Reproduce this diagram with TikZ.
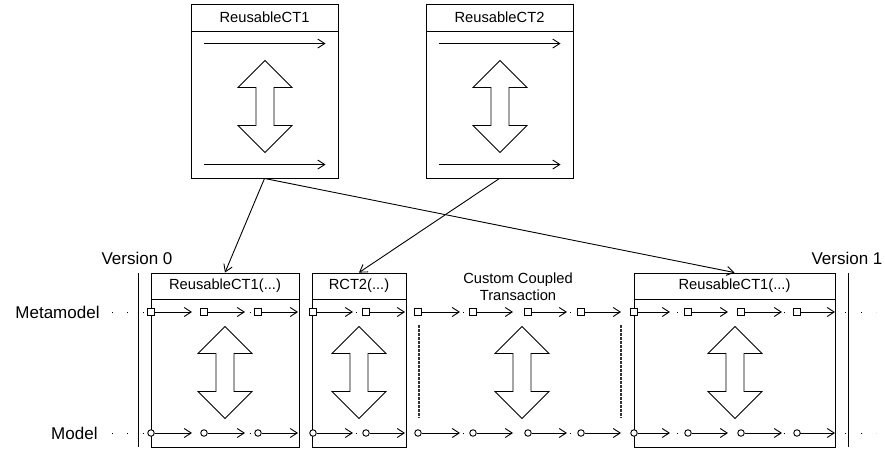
\documentclass[tikz,border=0pt]{standalone}
\usepackage{fontspec}
\setmainfont{Liberation Sans}
\usetikzlibrary{arrows.meta, calc}
\tikzset{ctbox/.style = {draw, minimum height=174pt, inner sep=0pt},
  cthead/.style = {draw, minimum height=27pt, inner sep=0pt, anchor=north, font=\fontsize{14.7}{17}\selectfont},
  lbl/.style = {font=\fontsize{17}{20}\selectfont, inner sep=0pt},
  barb/.style = {-{Straight Barb[length=7pt,width=9pt]}},
  mmsq/.style = {draw, fill=white, minimum size=6.5pt, inner sep=0pt},
  mcirc/.style = {draw, fill=white, circle, minimum size=6.5pt, inner sep=0pt},
  rowdots/.style = {dash pattern=on 1pt off 14.28pt, line width=1pt},
  sepline/.style = {gray!40!black, line width=1.2pt, dash pattern=on 3pt off 1pt},
  pics/dblarrow/.style = {code={\draw[fill=white] (0,-46) -- (27,-19) -- (9,-19) -- (9,19) -- (27,19) -- (0,46)
    -- (-27,19) -- (-9,19) -- (-9,-19) -- (-27,-19) -- cycle;}}}

\begin{document}
\begin{tikzpicture}[x=1pt, y=-1pt, line width=0.9pt]
\useasboundingbox (0,0) rectangle (885,449);
\node[ctbox, minimum width=147pt] (rct1) at (264.5,91) {};
\node[cthead, minimum width=147pt] (rct1h) at (rct1.north) {ReusableCT1};
\node[ctbox, minimum width=147pt] (rct2) at (499.5,91) {};
\node[cthead, minimum width=147pt] (rct2h) at (rct2.north) {ReusableCT2};
\foreach \b in {rct1, rct2} {
  \draw[barb] ($(\b.north west)+(13,40)$) -- ++(122,0);
  \draw[barb] ($(\b.north west)+(13,161)$) -- ++(122,0);
}
\pic at (265,106.5) {dblarrow};
\pic at (500,106.5) {dblarrow};

\draw[rowdots] (112,312) -- (876,312);
\draw[rowdots] (112,433) -- (876,433);
\node[ctbox, minimum width=148pt] (b1) at (225,360) {};
\node[cthead, minimum width=148pt, minimum height=26pt] (b1h) at (b1.north) {ReusableCT1(...)};
\node[ctbox, minimum width=94pt] (b2) at (359,360) {};
\node[cthead, minimum width=94pt, minimum height=26pt] (b2h) at (b2.north) {RCT2(...)};
\node[ctbox, minimum width=201pt] (b3) at (734.5,360) {};
\node[cthead, minimum width=201pt, minimum height=26pt] (b3h) at (b3.north) {ReusableCT1(...)};
\node[font=\fontsize{14.7}{17}\selectfont, align=center, inner sep=0pt] (cct) at (518,287) {Custom Coupled\\Transaction};
\draw[sepline] (419,325) -- (419,418);
\draw[sepline] (621,325) -- (621,418);
\pic at (225,372.5) {dblarrow};
\pic at (359,372.5) {dblarrow};
\pic at (522,372.5) {dblarrow};
\pic at (735,372.5) {dblarrow};

\node[lbl] (v0) at (137,258) {Version 0};
\node[lbl] (v1) at (847,258) {Version 1};
\draw (138,273) -- (138,447);
\draw (848,273) -- (848,447);
\node[lbl, anchor=east] (mmlbl) at (100,312) {Metamodel};
\node[lbl, anchor=east] (mlbl) at (98,433) {Model};

\foreach \x/\e [count=\i] in {151/192, 204/245, 258/298, 313/353, 366/405, 418/460, 473/513,
    528/567, 581/621, 634/670, 688/728, 741/782, 797/835} {
  \node[mmsq] (mm\i) at (\x,312) {};
  \coordinate (mme\i) at (\e,312);
  \draw[barb] (mm\i) -- (mme\i);
  \node[mcirc] (md\i) at (\x,433) {};
  \coordinate (mde\i) at (\e,433);
  \draw[barb] (md\i) -- (mde\i);
}

\draw[barb] (rct1.south) -- (b1h.north);
\draw[barb] (rct1.south) -- (b3h.north);
\draw[barb] (rct2.south) -- (b2h.north);
\end{tikzpicture}
\end{document}
